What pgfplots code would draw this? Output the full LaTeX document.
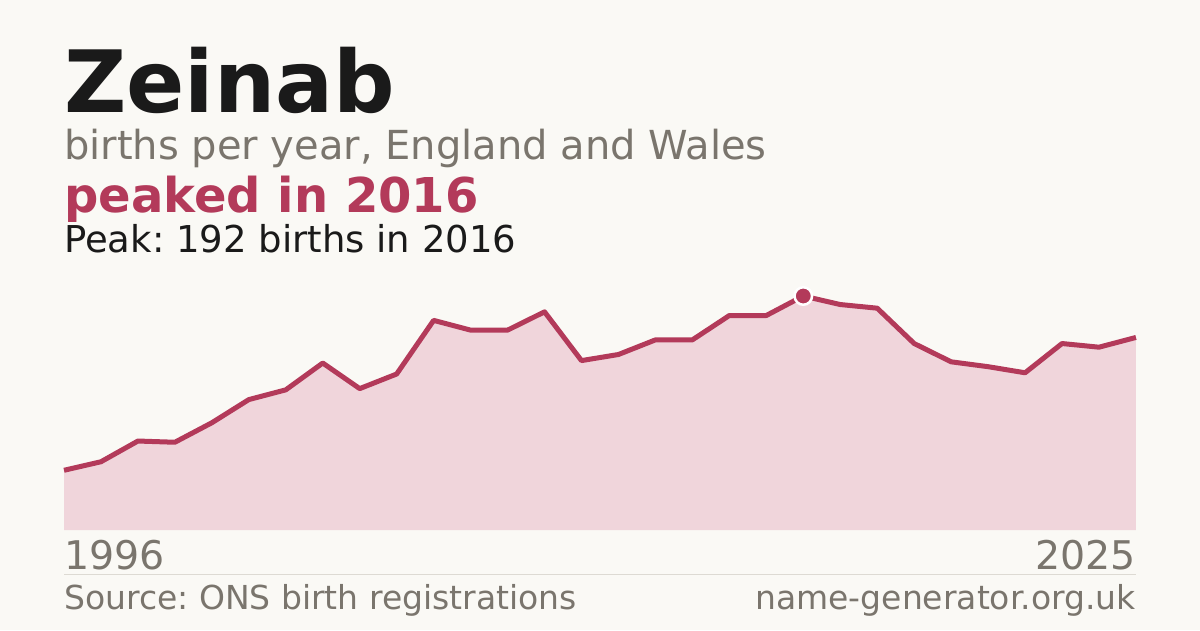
\documentclass[border=0pt]{standalone}
\usepackage{pgfplots}
\pgfplotsset{compat=1.18}
\usepackage{fontspec}
\setmainfont{DejaVu Sans}
\frenchspacing

\definecolor{bgc}{HTML}{FAF9F5}
\definecolor{ink}{HTML}{1A1A1A}
\definecolor{muted}{HTML}{7A756D}
\definecolor{crim}{HTML}{B33A5A}
\definecolor{areafill}{HTML}{F0D5DB}
\definecolor{rule}{HTML}{DDDAD3}

\begin{document}
\begin{tikzpicture}[x=1pt, y=1pt]
  \fill[bgc] (0,0) rectangle (1200,630);
  \useasboundingbox (0,0) rectangle (1200,630);

  % headings
  \node[anchor=base west, inner sep=0, text=ink] at (64,517)
    {\fontsize{86}{100}\selectfont\bfseries Zeinab};
  \node[anchor=base west, inner sep=0, text=muted] at (64,470)
    {\fontsize{40}{44}\selectfont births per year, England and Wales};
  \node[anchor=base west, inner sep=0, text=crim] at (64,417)
    {\fontsize{48}{52}\selectfont\bfseries peaked in 2016};
  \node[anchor=base west, inner sep=0, text=ink] at (64,377)
    {\fontsize{37}{40}\selectfont Peak: 192 births in 2016};

  \begin{axis}[
      at={(64pt,100pt)}, anchor=south west,
      scale only axis, width=1072pt, height=234pt,
      xmin=1996, xmax=2025, ymin=0, ymax=192,
      axis lines=none, xtick=\empty, ytick=\empty,
      clip=false
    ]
    \addplot[draw=none, fill=areafill] coordinates {
      (1996,49) (1997,56) (1998,73) (1999,72) (2000,88)
      (2001,107) (2002,115) (2003,137) (2004,116) (2005,128)
      (2006,172) (2007,164) (2008,164) (2009,179) (2010,139)
      (2011,144) (2012,156) (2013,156) (2014,176) (2015,176)
      (2016,192) (2017,185) (2018,182) (2019,153) (2020,138)
      (2021,134) (2022,129) (2023,153) (2024,150) (2025,158)
    } \closedcycle;
    \addplot[crim, line width=5pt, line join=round, mark=none] coordinates {
      (1996,49) (1997,56) (1998,73) (1999,72) (2000,88)
      (2001,107) (2002,115) (2003,137) (2004,116) (2005,128)
      (2006,172) (2007,164) (2008,164) (2009,179) (2010,139)
      (2011,144) (2012,156) (2013,156) (2014,176) (2015,176)
      (2016,192) (2017,185) (2018,182) (2019,153) (2020,138)
      (2021,134) (2022,129) (2023,153) (2024,150) (2025,158)
    };
    \addplot[only marks, mark=*, mark size=8.75pt,
      mark options={fill=crim, draw=white, line width=2.5pt}]
      coordinates {(2016,192)};
  \end{axis}

  % axis end labels
  \node[anchor=base west, inner sep=0, text=muted] at (64,61)
    {\fontsize{39.5}{44}\selectfont 1996};
  \node[anchor=base east, inner sep=0, text=muted] at (1136,61)
    {\fontsize{39.5}{44}\selectfont 2025};
  \draw[rule, line width=1pt] (64,56) -- (1136,56);

  % footer
  \node[anchor=base west, inner sep=0, text=muted] at (64,21)
    {\fontsize{33}{36}\selectfont Source: ONS birth registrations};
  \node[anchor=base east, inner sep=0, text=muted] at (1136,21)
    {\fontsize{33}{36}\selectfont name-generator.org.uk};
\end{tikzpicture}
\end{document}
